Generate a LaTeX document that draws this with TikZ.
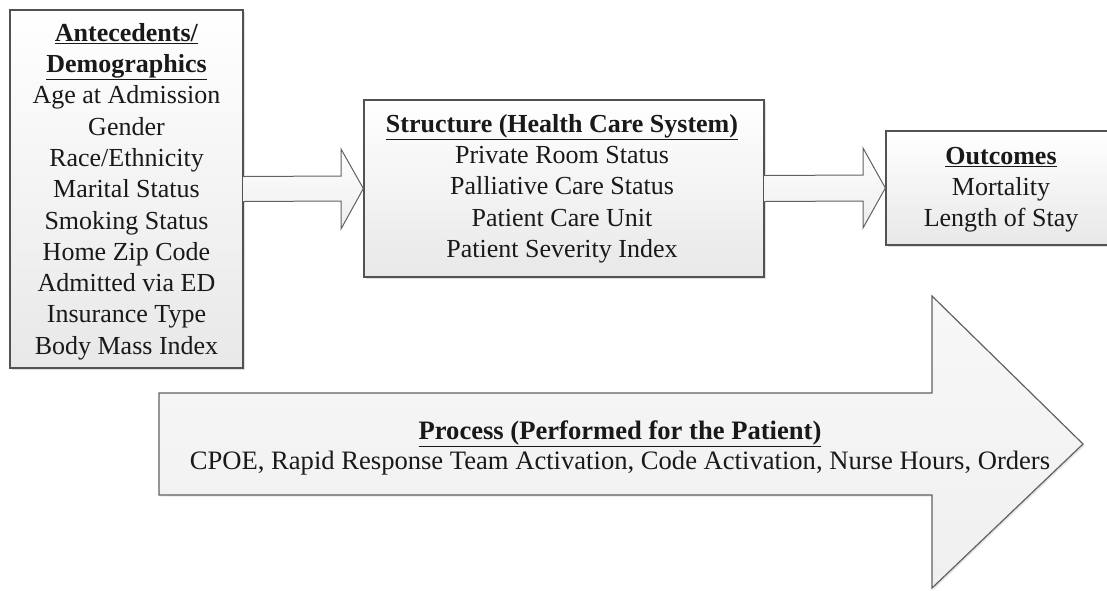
\documentclass[tikz,border=0pt]{standalone}
\usepackage{fontspec}
\setmainfont{Liberation Serif}
\usetikzlibrary{shadows,calc}

\begin{document}
\begin{tikzpicture}[x=1pt,y=-1pt,
  box/.style={draw=black!68, line width=1.3pt, top color=white, bottom color=black!9,
    drop shadow={shadow xshift=1.6pt, shadow yshift=-1.6pt, opacity=0.25},
    inner sep=0pt},
  arrowfill/.style={top color=white, bottom color=black!7},
  arrowline/.style={draw=black!62, line width=1pt, line join=miter},
  bigfill/.style={top color=black!3, bottom color=black!6,
    drop shadow={shadow xshift=1.6pt, shadow yshift=-1.6pt, opacity=0.2}},
  label/.style={inner sep=0pt, align=center, text=black!90,
    font=\fontsize{26}{31.3}\selectfont}]

\useasboundingbox (0,0) rectangle (1107,590);

% Process arrow across the bottom
\path[bigfill] (159,393) -- (932,393) -- (932,296) -- (1083,444) -- (932,588)
  -- (932,495) -- (159,495) -- cycle;
\draw[arrowline, line width=1.2pt] (159,393) -- (932,393) -- (932,296) -- (1083,444)
  -- (932,588) -- (932,495) -- (159,495) -- cycle;
\node[label, font=\fontsize{26.6}{30}\selectfont] (proc) at (620,448)
  {\underline{\textbf{Process (Performed for the Patient)}}\\
   CPOE, Rapid Response Team Activation, Code Activation, Nurse Hours, Orders};

% Boxes
\node[box, minimum width=233pt, minimum height=358pt] (ante) at (126.5,189) {};
\node[label] (antetext) at (126.5,191.5)
  {\underline{\textbf{Antecedents/}}\\
   \underline{\textbf{Demographics}}\\
   Age at Admission\\ Gender\\ Race/Ethnicity\\ Marital Status\\ Smoking Status\\
   Home Zip Code\\ Admitted via ED\\ Insurance Type\\ Body Mass Index};

\node[box, minimum width=400pt, minimum height=177pt] (struct) at (564,188.5) {};
\node[label] (structtext) at (562,188.5)
  {\underline{\textbf{Structure (Health Care System)}}\\
   Private Room Status\\ Palliative Care Status\\ Patient Care Unit\\
   Patient Severity Index};

\node[box, minimum width=226pt, minimum height=114pt] (out) at (999,188) {};
\node[label] (outtext) at (1001,189.5)
  {\underline{\textbf{Outcomes}}\\ Mortality\\ Length of Stay};

% Block arrow: antecedents -> structure
\path[arrowfill] ($(ante.east)+(0,-12.5)$) -- (341,176) -- (341,149) -- (struct.west)
  -- (341,229) -- (341,201) -- ($(ante.east)+(0,12.5)$) -- cycle;
\draw[arrowline] ($(ante.east)+(0,-12.5)$) -- (341,176) -- (341,149) -- (struct.west)
  -- (341,229) -- (341,201) -- ($(ante.east)+(0,12.5)$);

% Block arrow: structure -> outcomes
\path[arrowfill] ($(struct.east)+(0,-13)$) -- (863,175) -- (863,148) -- (out.west)
  -- (863,228) -- (863,201) -- ($(struct.east)+(0,13)$) -- cycle;
\draw[arrowline] ($(struct.east)+(0,-13)$) -- (863,175) -- (863,148) -- (out.west)
  -- (863,228) -- (863,201) -- ($(struct.east)+(0,13)$);

\end{tikzpicture}
\end{document}
